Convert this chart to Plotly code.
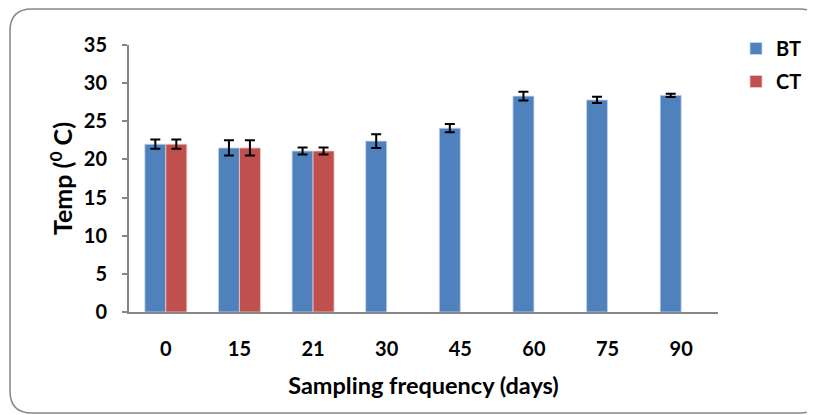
import plotly.graph_objects as go

categories = ["0", "15", "21", "30", "45", "60", "75", "90"]
bt_values = [22.0, 21.5, 21.1, 22.4, 24.1, 28.3, 27.8, 28.4]
bt_errors = [0.6, 1.0, 0.45, 0.9, 0.55, 0.57, 0.4, 0.22]
ct_values = [22.0, 21.5, 21.1, None, None, None, None, None]
ct_errors = [0.6, 1.0, 0.45, None, None, None, None, None]
y_ticks = [0, 5, 10, 15, 20, 25, 30, 35]

OFF = 8  # default page body margin
W, H = 815 - OFF, 415 - OFF
L, R, T, B = 129 - OFF, 718 - OFF, 45 - OFF, 312 - OFF
FONT = "Lato"

def px_x(p):
    return (p - OFF - L) / (R - L)

def px_y(p):
    return (B - (p - OFF)) / (B - T)

fig = go.Figure()
fig.add_trace(go.Bar(
    name="BT", x=categories, y=bt_values, legendgroup="bt",
    marker=dict(color="#4F81BD", line=dict(color="rgba(200,215,235,0.8)", width=1)),
    error_y=dict(type="data", array=bt_errors, color="black", thickness=2, width=5),
))
fig.add_trace(go.Bar(
    name="CT", x=categories, y=ct_values, legendgroup="ct",
    marker=dict(color="#C0504D", line=dict(color="rgba(235,200,200,0.8)", width=1)),
    error_y=dict(type="data", array=ct_errors, color="black", thickness=2, width=5),
))

# rounded outer border
x0, x1, y0, y1, r = 10, 822, 9, 413, 22
path = (
    f"M {px_x(x0)} {px_y(y0 + r)} "
    f"Q {px_x(x0)} {px_y(y0)} {px_x(x0 + r)} {px_y(y0)} "
    f"L {px_x(x1 - r)} {px_y(y0)} "
    f"Q {px_x(x1)} {px_y(y0)} {px_x(x1)} {px_y(y0 + r)} "
    f"L {px_x(x1)} {px_y(y1 - r)} "
    f"Q {px_x(x1)} {px_y(y1)} {px_x(x1 - r)} {px_y(y1)} "
    f"L {px_x(x0 + r)} {px_y(y1)} "
    f"Q {px_x(x0)} {px_y(y1)} {px_x(x0)} {px_y(y1 - r)} Z"
)

fig.update_layout(
    width=W, height=H,
    margin=dict(l=L, r=W - R, t=T, b=H - B, autoexpand=False),
    paper_bgcolor="white", plot_bgcolor="white",
    barmode="group", bargap=0.43, bargroupgap=0,
    font=dict(family=FONT, size=20, color="black", weight="bold"),
    shapes=[dict(type="path", xref="paper", yref="paper", path=path,
                 line=dict(color="#868686", width=1.5), layer="below")],
    legend=dict(x=px_x(736), y=px_y(29), xanchor="left", yanchor="top",
                font=dict(family=FONT, size=20, weight="bold"),
                itemwidth=30, tracegroupgap=4, bgcolor="rgba(0,0,0,0)"),
    showlegend=True,
)
fig.update_xaxes(
    automargin=False,
    showline=True, linecolor="#868686", linewidth=2,
    ticks="", showgrid=False, ticklabelstandoff=18,
    tickfont=dict(family=FONT, size=20, weight="bold"),
    title=dict(text="Sampling frequency (days)", standoff=19,
               font=dict(family=FONT, size=23.5, weight="bold")),
)
fig.update_yaxes(
    automargin=False,
    range=[0, 35], tickvals=y_ticks,
    showline=True, linecolor="#868686", linewidth=2,
    ticks="outside", ticklen=5, tickcolor="#868686", tickwidth=1.5,
    showgrid=False, zeroline=False, ticklabelstandoff=11,
    tickfont=dict(family=FONT, size=20, weight="bold"),
    title=dict(text="Temp (<sup>0</sup> C)", standoff=4,
               font=dict(family=FONT, size=25, weight="bold")),
)

fig.write_html("out.html")
